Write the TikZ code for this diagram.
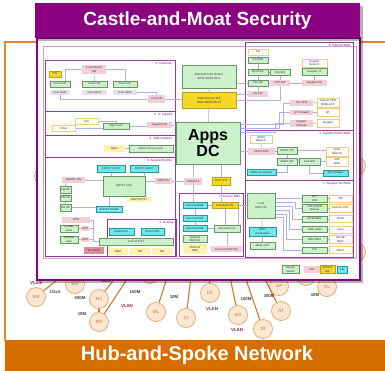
\documentclass[tikz,border=0pt]{standalone}
\usepackage{fontspec}
\setmainfont{Liberation Sans}
\usepackage{xcolor}
\usepackage{tikz}
\usetikzlibrary{backgrounds,calc}

\definecolor{castle}{RGB}{139,0,128}
\definecolor{moat}{RGB}{214,110,0}
\definecolor{moatline}{RGB}{230,135,45}
\definecolor{rtrfill}{RGB}{204,242,204}
\definecolor{rtrdraw}{RGB}{105,150,105}
\definecolor{lbfill}{RGB}{110,232,232}
\definecolor{lbdraw}{RGB}{40,150,160}
\definecolor{fwfill}{RGB}{242,206,214}
\definecolor{sfsrv}{RGB}{225,140,150}
\definecolor{idsfill}{RGB}{245,215,40}
\definecolor{idsdraw}{RGB}{190,160,20}
\definecolor{extdraw}{RGB}{245,205,120}
\definecolor{zonefill}{RGB}{255,242,175}
\definecolor{tagfill}{RGB}{228,228,228}
\definecolor{secdraw}{RGB}{150,60,150}
\definecolor{paneldraw}{RGB}{205,160,215}
\definecolor{wirec}{RGB}{175,175,238}
\definecolor{sitefill}{RGB}{252,232,210}
\definecolor{sitedraw}{RGB}{225,165,110}
\definecolor{sitetext}{RGB}{215,150,95}
\definecolor{spokec}{RGB}{205,120,45}
\definecolor{vlanc}{RGB}{130,30,90}

\tikzset{
  dev/.style={draw, line width=0.5, inner sep=0.3pt, align=center, text=black!80, font=\fontsize{2.8}{3.1}\selectfont},
  sz/.style 2 args={minimum width=#1, minimum height=#2},
  rtr/.style={dev, fill=rtrfill, draw=rtrdraw},
  lb/.style={dev, fill=lbfill, draw=lbdraw},
  fw/.style={dev, fill=fwfill, draw=none},
  ids/.style={dev, fill=idsfill, draw=idsdraw},
  ext/.style={dev, fill=white, draw=extdraw, line width=0.7},
  zone/.style={dev, fill=zonefill, draw=none},
  tag/.style={dev, fill=tagfill, draw=none},
  sect/.style={draw=secdraw, line width=0.7},
  seclbl/.style={inner sep=0.5pt, anchor=north east, text=castle, font=\fontsize{3}{3.5}\selectfont},
  wire/.style={draw=wirec, line width=0.6},
  site/.style={circle, draw=sitedraw, fill=sitefill, line width=0.7, minimum size=19, inner sep=0, text=sitetext, font=\fontsize{4.5}{5}\bfseries\selectfont},
  spoke/.style={draw=spokec, line width=1.1},
  rate/.style={inner sep=0.5pt, text=black!75, font=\fontsize{4.3}{5}\bfseries\selectfont},
  vlan/.style={rate, text=vlanc}
}

\begin{document}
\begin{tikzpicture}[x=1pt,y=1pt,yscale=-1,xscale=1]
\useasboundingbox (0,0) rectangle (385,370);
\clip (0,0) rectangle (385,370);

\begin{scope}[on background layer]
%Moat frame and band
\draw[moatline, line width=1.4] (5,341) -- (5,42) -- (390,42);
\fill[moat] (5,340) rectangle (390,372);
\node[text=white, font=\fontsize{20}{20}\bfseries\selectfont] (moattitle) at (197,355) {Hub-and-Spoke Network};

%Sites
\coordinate (hub) at (205,160);
\node[site] (sw) at (36,297) {SW};
\node[site] (wa) at (75,284) {WA};
\node[site] (hj) at (99,299) {HJ};
\node[site] (rd) at (99,322) {RD};
\node[site] (ml) at (156,312) {ML};
\node[site] (ci) at (186,318) {CI};
\node[site] (dc) at (210,293) {DC};
\node[site] (bo) at (238,315) {BO};
\node[site] (di) at (263,329) {DI};
\node[site] (nt) at (281,311) {NT};
\node[site] (gp) at (279,286) {GP};
\node[site] (kl) at (327,287) {KL};
\node[site] (ha) at (150,274) {};
\node[site] (hb) at (306,276) {};
\node[site] (hc) at (44,176) {};
\node[site] (hd) at (356,166) {};
\node[site] (he) at (356,252) {};
\foreach \s in {sw,wa,hj,rd,ml,ci,dc,bo,di,nt,gp,kl,ha,hb,hc,hd,he}
  \draw[spoke] (hub) -- (\s);
\draw[spoke] (hj) -- (rd);

% Text Node
\node[vlan] (v1) at (36,283) {VLAN};
\node[rate] (b1) at (55,292) {1Gx4};
\node[rate] (b2) at (80,298) {500M};
\node[rate] (b3) at (82,314) {10M};
\node[rate] (b4) at (106,281) {10M};
\node[rate] (b5) at (135,292) {100M};
\node[vlan] (v2) at (127,306) {VLAN};
\node[rate] (b6) at (174,297) {10M};
\node[vlan] (v3) at (212,309) {VLAN};
\node[rate] (b7) at (246,299) {100M};
\node[vlan] (v4) at (237,330) {VLAN};
\node[rate] (b8) at (269,296) {300M};
\node[rate] (b9) at (315,295) {10M};

%Castle
\fill[black, opacity=0.3] (40,41) rectangle (363,283);
\draw[castle, fill=white, line width=1.6] (37,38) rectangle (360,280);
\draw[paneldraw, line width=0.6] (43,46) rectangle (356,258);
\draw[sect] (45,60) rectangle (175,111);
\draw[sect] (45,111) rectangle (175,135);
\draw[sect] (45,135) rectangle (175,157);
\draw[sect] (45,157) rectangle (175,256);
\draw[sect] (107,219) rectangle (176,256);
\draw[sect] (179,193) rectangle (243,256);
\draw[sect] (245,42) rectangle (353,130);
\draw[sect] (245,130) rectangle (353,180);
\draw[sect] (245,180) rectangle (353,257);
\node[seclbl] (l6) at (173,62) {6. Customer};
\node[seclbl] (l5) at (173,113) {5. IT Support};
\node[seclbl] (l9) at (173,137) {9. Administration};
\node[seclbl] (l3p) at (173,159) {3. Supplier/Partner};
\node[seclbl] (l4) at (174,221) {4. Overlay};
\node[seclbl] (l7) at (241,195) {7. Internet DMZ};
\node[seclbl] (l2) at (351,44) {2. Internet WAN};
\node[seclbl] (l3w) at (351,132) {3. Supplier EWDI WAN};
\node[seclbl] (l1) at (351,182) {1. Supplier 5G WAN};
\end{scope}

%6. Customer
\node[ids, sz={12}{6}] (ips) at (55,74) {IPS};
\node[fw, sz={24}{9}] (custifw) at (94,69.5) {Cust Internet\\FW};
\node[rtr, sz={20}{6}] (ccore1) at (60,84) {Cust Core};
\node[rtr, sz={25}{6}] (ccore2) at (94.5,84) {Cust Core};
\node[rtr, sz={24}{6}] (ccore3) at (125,84) {Cust Core};
\node[tag, sz={20}{5}] (cred2) at (60,92) {Cust Red2};
\node[tag, sz={25}{5}] (cblue2) at (94.5,92) {Cust Blue2};
\node[tag, sz={24}{5}] (cred3) at (125,92) {Cust Red3};
\node[fw, sz={17}{8}] (custfw) at (156.5,99) {Cust FW};
%5. IT Support
\node[ext, sz={23}{6}] (cell) at (86.5,121) {Cell};
\node[ext, sz={23}{6}] (ticket) at (63.5,128) {Ticket};
\node[rtr, sz={26}{6}] (suppcore) at (116,126) {Supp Core};
\node[fw, sz={25}{6}] (suppfw) at (159.5,125) {Support FW};
%9. Administration
\node[zone, sz={21}{7}] (mgmt) at (114.5,148.5) {Mgmt};
\node[rtr, sz={44}{7}] (adminc) at (151,148.5) {Admin Access Core};
%3. Supplier/Partner
\node[lb, sz={28}{7}] (lbat) at (111,168.5) {SFP/FT LB-AT};
\node[lb, sz={28}{7}] (lbbt) at (144,168.5) {SFP/FT LB-BT};
\node[fw, sz={23}{6}] (sigfw) at (73.5,180) {SIGNAL FW};
\node[rtr, sz={42}{20}] (sfpau) at (124,186) {SFP/FT (AU)};
\node[fw, sz={17}{6}] (dmzfw) at (163.5,181) {DMZ FW};
\node[zone, sz={24}{5}] (dmzsfp) at (139,199.5) {DMZ SFP/FT};
\node[rtr, sz={11}{7}] (swsp) at (65.5,189.5) {SW-SP};
\node[rtr, sz={11}{6}] (piglb) at (65.5,198) {PIG LB};
\node[rtr, sz={11}{7}] (pigsp) at (65.5,207.5) {PIG SP};
\node[lb, sz={26}{6}] (lbsr) at (109,209) {SFP/FT LB-SR};
\node[fw, sz={28}{6}] (utm0) at (76,220) {UTM};
\node[rtr, sz={18}{7}] (leader) at (69,228.5) {Leader\\Zone};
\node[fw, sz={8}{5}] (utm1) at (85,228.5) {UTM};
\node[rtr, sz={18}{7}] (transfer) at (69,239.5) {Transfer\\zone};
\node[fw, sz={8}{5}] (utm2) at (85,239.5) {UTM};
\coordinate (utmbus) at (93,220);
%4. Overlay
\node[lb, sz={25}{7}] (emaila) at (121.5,231.5) {Email LB-A};
\node[lb, sz={23}{7}] (emailb) at (152.5,231.5) {Email LB-B};
\node[rtr, sz={74}{7}] (coresfp) at (136,241.5) {Core SFP/FT};
\node[zone, sz={20}{7}] (dmz) at (118,251.5) {DMZ};
\node[zone, sz={20}{7}] (rdz) at (140,251.5) {RD};
\node[zone, sz={20}{7}] (obz) at (162,251.5) {OB};
\node[fw, fill=sfsrv, sz={20}{7}] (sfserver) at (94,250.5) {SF Server};
%Core
\node[rtr, sz={54}{23}, font=\fontsize{3}{3.6}\selectfont] (extrouter) at (209,76.5) {External Core Router\\APIG-EAST-00-1};
\node[ids, sz={54}{16}, font=\fontsize{3}{3.6}\selectfont] (coreips) at (209,100.5) {Internet Core IPS\\SRG-W0ST-88-12};
\node[rtr, sz={64}{42}, line width=0.8, text=black, font=\fontsize{16}{15.5}\bfseries\selectfont] (appsdc) at (208,143) {Apps\\DC};
\node[fw, sz={18}{7}] (fwnat) at (193,181) {FW/NAT-3};
\node[ids, sz={18}{8}] (suppips) at (221,181) {SUPP IPS};
%7. Internet DMZ
\node[lb, sz={24}{6}] (edmz1) at (195,205.5) {External DMZ};
\node[ids, sz={26}{6}] (eutm) at (225,205.5) {External UTM};
\node[lb, sz={24}{6}] (edmz2) at (195,218.5) {External DMZ};
\node[lb, sz={24}{6}] (edmz3) at (195,228) {External DMZ};
\node[rtr, sz={26}{7}] (extcore) at (227,228.5) {External Core};
\node[rtr, sz={24}{7}] (edmzext) at (195,239) {External\\DMZ Ext};
\node[zone, sz={24}{10}] (edmzy) at (195,249) {External\\DMZ};
\node[fw, sz={31}{6}] (edmzfw) at (226.5,249) {External DMZ FW};
%2. Internet WAN
\node[ext, sz={20}{6}] (pg) at (258,52) {PG};
\node[rtr, sz={20}{6}] (pgcbr) at (258,60) {PG CBR};
\node[rtr, sz={20}{6}] (pgipsec) at (258,72) {PG IPSec};
\node[rtr, sz={20}{6}] (distsw) at (280,72) {Dist SW};
\node[rtr, sz={20}{6}] (pgsw) at (258,83) {PG SW};
\node[fw, sz={20}{6}] (stpfw) at (280,83) {STP FW};
\node[fw, sz={20}{6}] (pgfw) at (258,94) {PG FW};
\node[ext, sz={25}{8}] (supnet) at (314.5,63) {Supplier\\Network};
\node[rtr, sz={25}{7}] (supft) at (314.5,72) {Supplier FT};
\node[fw, sz={25}{6}] (supfw) at (314.5,83) {Supplier FW};
\node[fw, sz={23}{6}] (pgvpn) at (301.5,103) {PG VPN};
\node[ext, sz={22}{9}] (inetvpn) at (328,102.5) {Internet VPN\\RWB-UCP};
\node[fw, sz={23}{5}] (qtfw) at (301.5,112.5) {QT Firewall};
\node[ext, sz={22}{8}] (qt) at (328,112.5) {QT};
\node[fw, sz={23}{7}] (supfw2) at (301.5,123.5) {Supplier\\Firewall};
\node[ext, sz={22}{8}] (supplier) at (328,123) {Supplier};
%3. Supplier EWDI WAN
\node[ext, sz={22}{8}] (ewdinet) at (261,139) {EWDI\\Network};
\node[fw, sz={27}{7}] (senfw) at (261.5,151.5) {SEN FW/02};
\node[rtr, sz={20}{7}] (ewd1sw) at (287,150.5) {EWD1 SW};
\node[rtr, sz={20}{7}] (sew1sw) at (287,161.5) {SEW1 SW};
\node[rtr, sz={21}{7}] (aassw) at (309.5,161.5) {AAS SW};
\node[ext, sz={22}{9}] (indianet) at (337,151.5) {India\\Network};
\node[ext, sz={22}{9}] (aaswan) at (337,161.5) {AAS\\WAN};
\node[lb, sz={29}{6}] (wanacc1) at (261.5,172.5) {WAN Accelerator};
\node[lb, sz={25}{6}] (qos) at (335.5,173) {QoS Shaper};
%1. Supplier 5G WAN
\node[rtr, sz={28}{25}] (localfw) at (261,205.5) {Local\\WAN FW};
\node[lb, sz={27}{9}] (wanacc2) at (262.5,231.5) {WAN\\Accelerator};
\node[rtr, sz={25}{7}] (wanvpn) at (262.5,246) {WAN\_VPN};
\node[rtr, sz={25}{7}] (g1) at (314.5,198.5) {VBT\\LSR};
\node[rtr, sz={25}{8}] (g2) at (314.5,208) {TF/LS/ASW\\Backup};
\node[rtr, sz={25}{6}] (g3) at (314.5,219) {MVM WAN};
\node[rtr, sz={25}{6}] (g4) at (314.5,229.5) {VOIP ASW};
\node[rtr, sz={25}{7}] (g5) at (314.5,239.5) {B2B WAN};
\node[rtr, sz={25}{6}] (g6) at (314.5,250) {FW};
\node[ext, sz={23}{7}] (y1) at (340.5,198.5) {VBI};
\node[ext, sz={23}{8}] (y2) at (340.5,208) {Backup VPN};
\node[ext, sz={23}{7}] (y3) at (340.5,219) {MVNI};
\node[ext, sz={23}{7}] (y4) at (340.5,229.5) {Voice};
\node[ext, sz={23}{8}] (y5) at (340.5,239.5) {eXLAB\\MMC};
\node[ext, sz={23}{7}] (y6) at (340.5,250) {Admin};
%Legend
\node[rtr, sz={17}{8}] (lgrt) at (290.5,269.5) {Router/\\Switch};
\node[fw, sz={16}{7}] (lgfw) at (311.5,269.5) {FW};
\node[ids, sz={15}{8}] (lgids) at (327.5,269.5) {Monitor/\\IDS};
\node[lb, sz={10}{7}] (lglb) at (342,269.5) {LB};

\begin{scope}[on background layer]
%Customer links
\draw[wire] ($(ccore1.north)+(5,0)$) |- (custifw.west);
\draw[wire] (custifw.east) -| (ccore3.north);
\draw[wire] (custifw.south) -- (ccore2.north);
\draw[wire] (cred2.south) |- (custfw.west);
\draw[wire] (cred3.east) -| (custfw.north);
\draw[wire] (custfw.east) -- (custfw.east -| coreips.west);
\draw[wire] (cell.east) -| (suppcore.north);
\draw[wire] (ticket.east) -- (ticket.east -| suppcore.west);
\draw[wire] (suppcore.east) -- (suppcore.east -| suppfw.west);
\draw[wire] (suppfw.east) -- (suppfw.east -| appsdc.west);
\draw[wire] (mgmt) -- (adminc);
\draw[wire] (adminc.east) -- (adminc.east -| appsdc.west);
%Supplier/Partner links
\draw[wire] (lbat.south) -- (lbat.south |- sfpau.north);
\draw[wire] (lbbt.south) -- (lbbt.south |- sfpau.north);
\draw[wire] (sigfw.east) -- (sigfw.east -| sfpau.west);
\draw[wire] (swsp.north) -- (swsp.north |- sigfw.south);
\draw[wire] (swsp) -- (piglb) -- (pigsp);
\draw[wire] (lbsr.north) -- (lbsr.north |- sfpau.south);
\draw[wire] (pigsp.east) -- (pigsp.east -| lbsr.west);
\draw[wire] (sfpau.east |- dmzfw.west) -- (dmzfw.west);
\draw[wire] (dmzfw.east) -- (fwnat.west);
\draw[wire] (leader.east) -- (leader.east -| utm1.west);
\draw[wire] (transfer.east) -- (transfer.east -| utm2.west);
\draw[wire] (utm0.east) -- (utmbus) -- (utmbus |- coresfp.west) -- (coresfp.west);
\draw[wire] (utm1.east) -- (utm1.east -| utmbus);
\draw[wire] (utm2.east) -- (utm2.east -| utmbus);
%Core links
\draw[wire] (extrouter) -- (coreips) -- (appsdc);
\draw[wire] (fwnat.north) -- (fwnat.north |- appsdc.south);
\draw[wire] (suppips.north) -- (suppips.north |- appsdc.south);
%DMZ links
\draw[wire] (edmz1) -- (eutm);
\draw[wire] (fwnat.south) -- (fwnat.south |- edmz1.north);
\draw[wire] (suppips.south) -- (suppips.south |- eutm.north);
\draw[wire] (eutm.south) -- (eutm.south |- extcore.north);
\draw[wire] (edmz1) -- (edmz2) -- (edmz3);
\draw[wire] (edmz3.east) -- (edmz3.east -| extcore.west);
\draw[wire] (extcore.south) -- (extcore.south |- edmzfw.north);
\draw[wire] (localfw.west) -- ++(-8,0) |- (extcore.east);
%WAN links
\draw[wire] (pg) -- (pgcbr) -- (pgipsec) -- (pgsw) -- (pgfw);
\draw[wire] (pgipsec) -- (distsw) -- (stpfw);
\draw[wire] (pgsw) -- (stpfw) -- (supfw);
\draw[wire] (supnet) -- (supft) -- (supfw);
\draw[wire] (pgsw.west) -- (pgsw.west -| extrouter.east);
\draw[wire] (pgfw.west) -- (pgfw.west -| coreips.east);
\draw[wire] (stpfw.south) |- (coreips.east);
\draw[wire] (pgvpn.west) -- ++(-6,0) |- ($(appsdc.north east)+(0,3)$);
\draw[wire] (qtfw.west) -- ++(-10,0) |- ($(appsdc.north east)+(0,7)$);
\draw[wire] (supfw2.west) -- ++(-14,0) |- ($(appsdc.north east)+(0,11)$);
\draw[wire] (pgvpn) -- (inetvpn);
\draw[wire] (qtfw) -- (qt);
\draw[wire] (supfw2) -- (supplier);
%EWDI links
\draw[wire] (ewdinet) -- (senfw);
\draw[wire] (senfw.east) -- (senfw.east -| ewd1sw.west);
\draw[wire] (ewd1sw.east) -- (ewd1sw.east -| indianet.west);
\draw[wire] (ewd1sw) -- (sew1sw) -- (aassw) -- (aaswan);
\draw[wire] (aassw.south) |- (qos.west);
\draw[wire] (wanacc1.east) -| (sew1sw.south);
\draw[wire] (senfw.west) -- (senfw.west -| appsdc.east);
%5G links
\foreach \i/\off/\dx in {1/-7/6, 2/-3.5/20, 3/0.5/17, 4/4.5/14, 5/8.5/11, 6/11.5/8}
  \draw[wire] ($(localfw.east)+(0,\off)$) -- ++(\dx,0) |- (g\i.west);
\foreach \i in {1,...,6}
  \draw[wire] (g\i) -- (y\i);
\draw[wire] (localfw) -- (wanacc2) -- (wanvpn);
\end{scope}

%Castle banner
\fill[black, opacity=0.3] (38,6) rectangle (363,41);
\fill[castle] (35,3) rectangle (360,38);
\node[text=white, font=\fontsize{19}{19}\bfseries\selectfont] (castletitle) at (197.5,21) {Castle-and-Moat Security};

\end{tikzpicture}
\end{document}
